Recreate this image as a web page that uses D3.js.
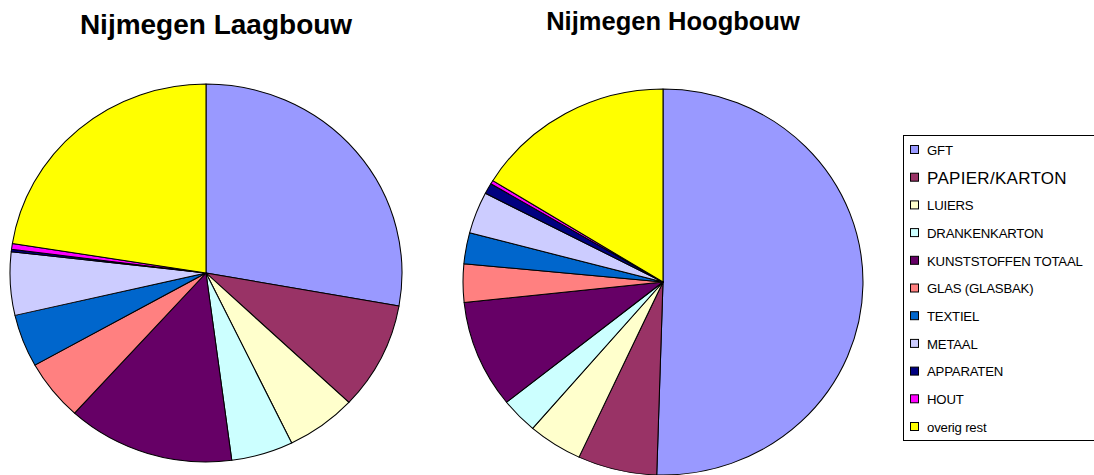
<!DOCTYPE html>
<html>
<head>
<meta charset="utf-8">
<script src="https://cdn.jsdelivr.net/npm/d3@7"></script>
<style>
  body { margin: 0; background: #fff; }
  svg { display: block; font-family: "Liberation Sans", Arial, sans-serif; }
</style>
</head>
<body>
<div id="chart"></div>
<script>
// categories and colours (same order for both pies)
const categories = ["GFT", "PAPIER/KARTON", "LUIERS", "DRANKENKARTON", "KUNSTSTOFFEN TOTAAL",
    "GLAS (GLASBAK)", "TEXTIEL", "METAAL", "APPARATEN", "HOUT", "overig rest"];
const colors = ["#9999FF", "#993366", "#FFFFCC", "#CCFFFF", "#660066",
    "#FF8080", "#0066CC", "#CCCCFF", "#000080", "#FF00FF", "#FFFF00"];

// shares in percent
const laagbouw = [27.8, 9.2, 5.8, 5.1, 13.8, 5.2, 4.5, 5.4, 0.2, 0.5, 22.5];
const hoogbouw = [50.5, 6.4, 4.4, 3.0, 9.0, 3.2, 2.6, 3.5, 0.9, 0.3, 16.2];

const width = 1094, height = 475;

const svg = d3.select("#chart").append("svg")
    .attr("width", width)
    .attr("height", height);

const color = d3.scaleOrdinal().domain(categories).range(colors);

const pie = d3.pie().sort(null).value(d => d.value);

// draws one (slightly squashed) pie with its title
function drawPie(values, opts) {
    const data = categories.map((c, i) => ({ name: c, value: values[i] }));
    const arc = d3.arc().innerRadius(0).outerRadius(opts.ry);

    const g = svg.append("g")
        .attr("transform", `translate(${opts.cx},${opts.cy}) scale(${opts.rx / opts.ry},1)`);

    g.selectAll("path")
        .data(pie(data))
        .join("path")
        .attr("d", arc)
        .attr("fill", d => color(d.data.name))
        .attr("stroke", "#000")
        .attr("stroke-width", 1)
        .attr("stroke-linejoin", "round");

    svg.append("text")
        .attr("x", opts.titleX)
        .attr("y", opts.titleY)
        .attr("text-anchor", "middle")
        .attr("font-weight", "bold")
        .attr("font-size", opts.titleSize)
        .text(opts.title);
}

drawPie(laagbouw, { cx: 206, cy: 273, rx: 196, ry: 189,
    title: "Nijmegen Laagbouw", titleX: 216, titleY: 34, titleSize: 28 });
drawPie(hoogbouw, { cx: 663, cy: 282, rx: 200, ry: 193,
    title: "Nijmegen Hoogbouw", titleX: 673, titleY: 30, titleSize: 25.5 });

// legend
const legend = svg.append("g").attr("transform", "translate(903,135)");
legend.append("rect")
    .attr("x", 0.5).attr("y", 0.5)
    .attr("width", 220).attr("height", 305)
    .attr("fill", "#fff")
    .attr("stroke", "#000");

const rowY = d3.scalePoint().domain(categories).range([15, 292]);

const item = legend.selectAll("g.item")
    .data(categories)
    .join("g")
    .classed("item", true)
    .attr("transform", d => `translate(0,${rowY(d)})`);

item.append("rect")
    .attr("x", 7.5).attr("y", -4.5)
    .attr("width", 8).attr("height", 8)
    .attr("fill", d => color(d))
    .attr("stroke", "#000");

item.append("text")
    .attr("x", 24)
    .attr("y", 0)
    .attr("dy", "0.36em")
    .attr("font-size", d => d === "PAPIER/KARTON" ? 17 : 13.2)
    .attr("letter-spacing", d => d === "PAPIER/KARTON" ? 0.3 : -0.2)
    .text(d => d);
</script>
</body>
</html>
